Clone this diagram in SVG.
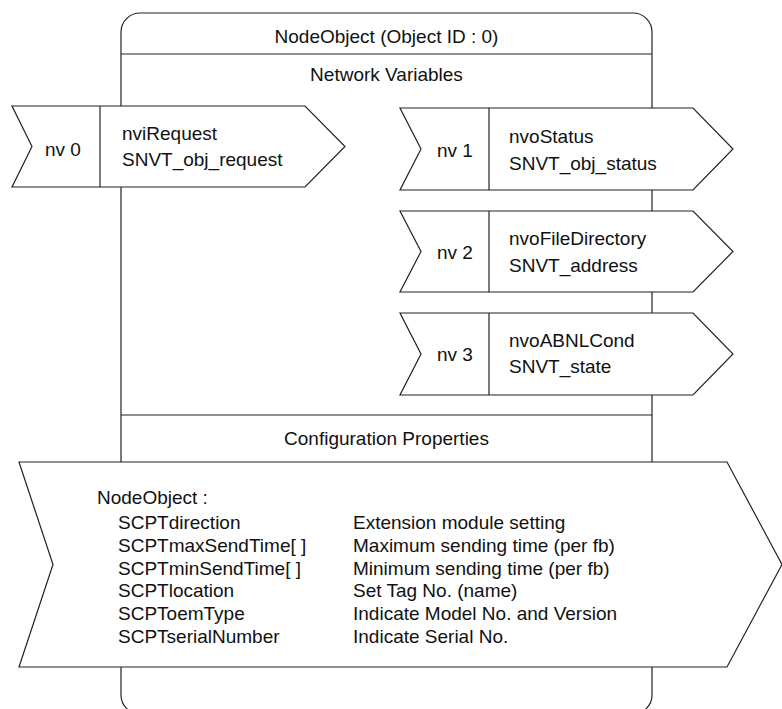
<svg xmlns="http://www.w3.org/2000/svg" width="782" height="709" viewBox="0 0 782 709">
<style>
.s{fill:#fff;stroke:#222;stroke-width:1.2}
.l{stroke:#222;stroke-width:1.2;fill:none}
text{font-family:"Liberation Sans",Arial,sans-serif;font-size:19px;fill:#111}
.c{text-anchor:middle}
</style>
<rect width="782" height="709" fill="#fff"/>
<g id="nodeobject">
<rect class="s" x="121" y="13" width="531" height="701" rx="19" ry="19"/>
<line class="l" x1="121" y1="54" x2="652" y2="54"/>
<line class="l" x1="121" y1="415" x2="652" y2="415"/>
<text class="c" x="386.5" y="43">NodeObject (Object ID : 0)</text>
<text class="c" x="386.5" y="81">Network Variables</text>
<text class="c" x="386.5" y="445">Configuration Properties</text>
</g>
<g id="nv0">
<path class="s" d="M12,106 H305 L345,146.5 L305,187 H12 L32,146.5 Z"/>
<line class="l" x1="100" y1="106" x2="100" y2="187"/>
<text x="45" y="156">nv 0</text>
<text x="122" y="140">nviRequest</text>
<text x="122" y="166">SNVT_obj_request</text>
</g>
<g id="nv1">
<path class="s" d="M400,108 H693 L733,149 L693,190 H400 L421,149 Z"/>
<line class="l" x1="489" y1="108" x2="489" y2="190"/>
<text x="437" y="157">nv 1</text>
<text x="509" y="143">nvoStatus</text>
<text x="509" y="170">SNVT_obj_status</text>
</g>
<g id="nv2">
<path class="s" d="M400,211 H693 L733,251.5 L693,292 H400 L421,251.5 Z"/>
<line class="l" x1="489" y1="211" x2="489" y2="292"/>
<text x="437" y="259">nv 2</text>
<text x="509" y="245">nvoFileDirectory</text>
<text x="509" y="272">SNVT_address</text>
</g>
<g id="nv3">
<path class="s" d="M400,313 H693 L733,354 L693,395 H400 L421,354 Z"/>
<line class="l" x1="489" y1="313" x2="489" y2="395"/>
<text x="437" y="361">nv 3</text>
<text x="509" y="347">nvoABNLCond</text>
<text x="509" y="373">SNVT_state</text>
</g>
<g id="config">
<path class="s" d="M19,462 H727 L782,564.5 L727,667 H19 L53,564.5 Z"/>
<text x="97" y="504">NodeObject :</text>
<text x="118" y="529">SCPTdirection</text>
<text x="118" y="552">SCPTmaxSendTime[ ]</text>
<text x="118" y="575">SCPTminSendTime[ ]</text>
<text x="118" y="597">SCPTlocation</text>
<text x="118" y="620">SCPToemType</text>
<text x="118" y="643">SCPTserialNumber</text>
<text x="353" y="529">Extension module setting</text>
<text x="353" y="552">Maximum sending time (per fb)</text>
<text x="353" y="575">Minimum sending time (per fb)</text>
<text x="353" y="597">Set Tag No. (name)</text>
<text x="353" y="620">Indicate Model No. and Version</text>
<text x="353" y="643">Indicate Serial No.</text>
</g>
<g id="connectors"></g>
</svg>
